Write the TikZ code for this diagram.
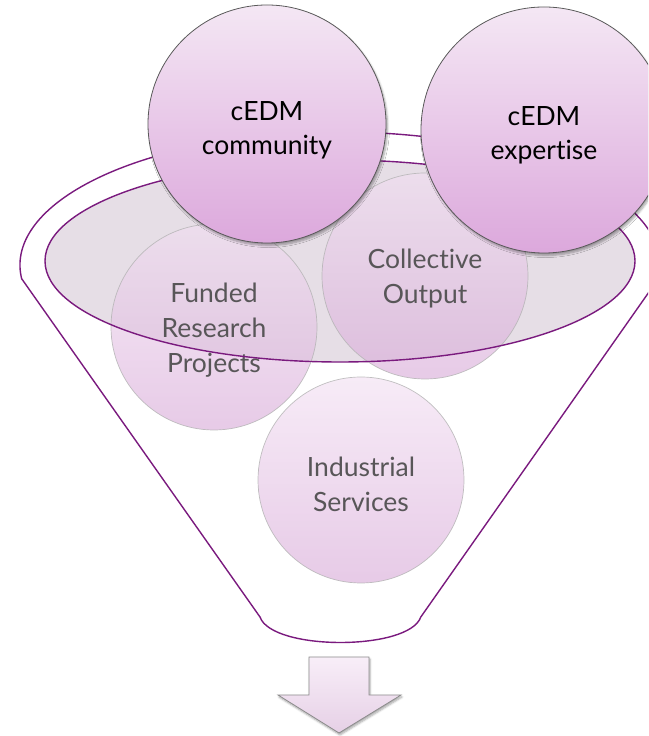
\documentclass[tikz,border=0pt]{standalone}
\usepackage{fontspec}
\setmainfont{Lato}[Ligatures={NoCommon}]
\usetikzlibrary{shadows.blur}
\definecolor{funnelpurple}{RGB}{122,26,126}
\definecolor{bigtop}{RGB}{244,231,244}
\definecolor{bigbot}{RGB}{220,168,220}
\definecolor{smalltop}{RGB}{242,222,242}
\definecolor{smallbot}{RGB}{214,165,214}
\definecolor{ellfill}{RGB}{230,222,230}
\definecolor{smalltext}{RGB}{88,86,88}
\definecolor{arrowtop}{RGB}{248,238,248}
\definecolor{arrowbot}{RGB}{230,208,230}
\tikzset{
  bigball/.style={circle, draw=black!65, line width=0.8pt, top color=bigtop, bottom color=bigbot,
    blur shadow={shadow xshift=1.5pt, shadow yshift=-2.5pt, shadow blur steps=6, shadow opacity=35}},
  smallball/.style={circle, draw=black!30, line width=0.7pt, top color=smalltop, bottom color=smallbot,
    fill opacity=0.58, draw opacity=0.8},
  bigtext/.style={align=center, font=\fontsize{26.5}{34}\selectfont, text=black},
  smalltxt/.style={align=center, font=\fontsize{26.5}{35}\selectfont, text=smalltext},
  funnelline/.style={draw=funnelpurple, line width=1.4pt},
}
\begin{document}
\begin{tikzpicture}[x=1pt,y=1pt]
\useasboundingbox (0,0) rectangle (648,736);
\begin{scope}
\clip (0,0) rectangle (648,736);
% funnel body
\path[funnelline, fill=white] (21.8,457.1) coordinate (fl) -- (260,119) coordinate (bl)
  .. controls (272,85) and (409,85) .. (420.8,119) coordinate (br)
  -- (658.2,457.1) coordinate (fr)
  arc[start angle=-6, end angle=186, x radius=320, y radius=133] -- cycle;
% inner rim fill
\path[fill=ellfill] (340,475) ellipse[x radius=295, y radius=101];
% small circles
\node[smallball, minimum size=206pt] (funded) at (214,409) {};
\node[smallball, minimum size=206pt] (collective) at (425,460) {};
\node[smallball, minimum size=206pt] (industrial) at (361,256) {};
\node[smalltxt] (funded-t) at (214,406) {Funded\\Research\\Projects};
\node[smalltxt] (collective-t) at (425,457) {Collective\\Output};
\node[smalltxt] (industrial-t) at (361,252) {Industrial\\Services};
% inner rim outline
\draw[funnelline] (340,475) ellipse[x radius=295, y radius=101];
% big circles
\node[bigball, minimum size=238pt] (community) at (267,612) {};
\node[bigball, minimum size=246pt] (expertise) at (544,606) {};
\node[bigtext] (community-t) at (267,606) {cEDM\\community};
\node[bigtext] (expertise-t) at (544,601) {cEDM\\expertise};
\end{scope}
% output arrow
\path[draw=black!45, line width=0.8pt, top color=arrowtop, bottom color=arrowbot,
  blur shadow={shadow xshift=1pt, shadow yshift=-2pt, shadow blur steps=5, shadow opacity=35}]
  (309,79) coordinate (a1) -- (369,79) -- (369,41) -- (401,41) -- (339,3) coordinate (tip)
  -- (278,41) -- (309,41) -- cycle;
\end{tikzpicture}
\end{document}
